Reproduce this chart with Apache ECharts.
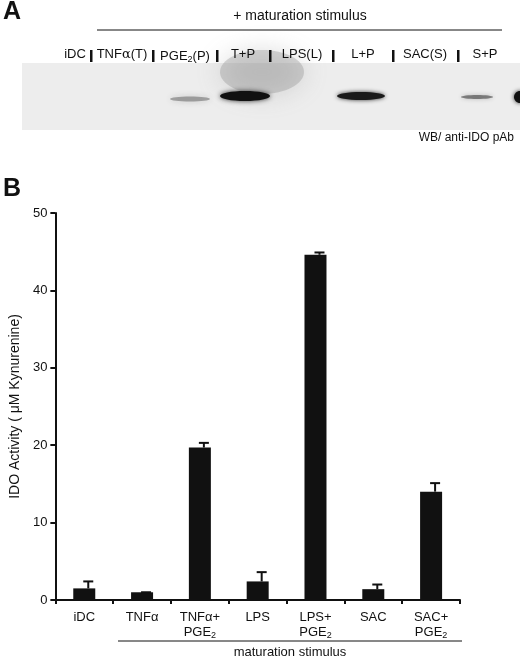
<!DOCTYPE html>
<html><head><meta charset="utf-8">
<script src="https://cdn.jsdelivr.net/npm/echarts@6/dist/echarts.min.js"></script>
<style>html,body{margin:0;background:#fff}#main{width:520px;height:665px}</style>
</head><body><div id="main"></div>
<script>
// bar chart data (panel B)
var categories = ['iDC', 'TNFα', 'TNFα+\nPGE{s|2}', 'LPS', 'LPS+\nPGE{s|2}', 'SAC', 'SAC+\nPGE{s|2}'];
var means = [1.5, 1.0, 19.7, 2.4, 44.6, 1.4, 14.0];
var errTops = [2.4, 1.0, 20.3, 3.6, 44.9, 2.0, 15.1];
var yTicks = [0, 10, 20, 30, 40, 50];

// blot lanes (panel A)
var laneLabels = ['iDC', 'TNF{g|α}(T)', 'PGE{s|2}(P)', 'T+P', 'LPS(L)', 'L+P', 'SAC(S)', 'S+P'];
var laneX = [75, 122, 185, 243, 302, 363, 425, 485];
var sepX = [91, 153, 217, 270, 333, 393, 458];

var myChart = echarts.init(document.getElementById('main'));
var font = 'Liberation Sans, Arial, sans-serif';
var rich = { s: { fontSize: 9, verticalAlign: 'bottom', padding: [7, 0, 0, 0], fontFamily: font, color: '#111' },
             g: { fontSize: 13, fontFamily: 'DejaVu Serif', color: '#111' } };

var graphics = [
  { type: 'text', left: 3, top: 0, style: { text: 'A', font: 'bold 25px ' + font, fill: '#111' } },
  { type: 'text', left: 3, top: 177, style: { text: 'B', font: 'bold 25px ' + font, fill: '#111' } },
  { type: 'text', x: 300, y: 9, style: { text: '+ maturation stimulus', font: '14px ' + font, fill: '#111', align: 'center' } },
  { type: 'line', shape: { x1: 97, y1: 30, x2: 502, y2: 30 }, style: { stroke: '#111', lineWidth: 1 } },
  { type: 'text', x: 514, y: 132, style: { text: 'WB/ anti-IDO pAb', font: '12px ' + font, fill: '#111', align: 'right' } },
  // blot background
  { type: 'rect', shape: { x: 22, y: 63, width: 498, height: 67 }, style: { fill: '#ededed' } },
  { type: 'ellipse', shape: { cx: 262, cy: 72, rx: 42, ry: 22 }, style: { fill: 'rgba(140,140,140,0.35)', shadowBlur: 25, shadowColor: 'rgba(140,140,140,0.8)' } },
  { type: 'ellipse', shape: { cx: 190, cy: 99, rx: 20, ry: 2.5 }, style: { fill: 'rgba(60,60,60,0.4)', shadowBlur: 6, shadowColor: 'rgba(60,60,60,0.5)' } },
  { type: 'ellipse', shape: { cx: 245, cy: 96, rx: 25, ry: 5 }, style: { fill: '#111', shadowBlur: 5, shadowColor: '#333' } },
  { type: 'ellipse', shape: { cx: 361, cy: 96, rx: 24, ry: 4 }, style: { fill: '#1a1a1a', shadowBlur: 4, shadowColor: '#333' } },
  { type: 'ellipse', shape: { cx: 477, cy: 97, rx: 16, ry: 2 }, style: { fill: 'rgba(50,50,50,0.55)', shadowBlur: 4, shadowColor: 'rgba(50,50,50,0.5)' } },
  { type: 'ellipse', shape: { cx: 520, cy: 97, rx: 6, ry: 6 }, style: { fill: '#111', shadowBlur: 4, shadowColor: '#333' } },
  // maturation stimulus under panel B
  { type: 'line', shape: { x1: 118, y1: 641, x2: 462, y2: 641 }, style: { stroke: '#111', lineWidth: 1 } },
  { type: 'text', x: 290, y: 646, style: { text: 'maturation stimulus', font: '13px ' + font, fill: '#111', align: 'center' } }
];
laneLabels.forEach(function (t, i) {
  graphics.push({ type: 'text', x: laneX[i], y: 48, style: { text: t, rich: rich, font: '13px ' + font, fill: '#111', align: 'center' } });
});
sepX.forEach(function (x) {
  graphics.push({ type: 'rect', shape: { x: x - 1, y: 50, width: 2.5, height: 12 }, style: { fill: '#111' } });
});

var option = {
  animation: false,
  grid: { left: 52, right: 60, top: 213, bottom: 65 },
  graphic: graphics,
  xAxis: {
    type: 'category', data: categories,
    axisLine: { lineStyle: { color: '#111', width: 2 } },
    axisTick: { show: true, length: 4, lineStyle: { color: '#111', width: 2 } },
    axisLabel: { interval: 0, color: '#111', fontSize: 13, fontFamily: font, lineHeight: 15, margin: 10, rich: rich }
  },
  yAxis: {
    type: 'value', min: 0, max: 50, interval: 10,
    name: 'IDO Activity ( μM Kynurenine)', nameLocation: 'middle', nameGap: 32,
    nameTextStyle: { color: '#111', fontSize: 14, fontFamily: font },
    axisLine: { show: true, lineStyle: { color: '#111', width: 2 } },
    axisTick: { show: true, length: 5, lineStyle: { color: '#111', width: 2 } },
    axisLabel: { color: '#111', fontSize: 13, fontFamily: font, margin: 8,
      formatter: function (v) { return yTicks.indexOf(v) >= 0 ? String(v) : ''; } },
    splitLine: { show: false }
  },
  series: [{
    type: 'bar', data: means, barWidth: 22,
    itemStyle: { color: '#111' }
  }, {
    type: 'custom',
    data: errTops.map(function (t, i) { return [i, means[i], t]; }),
    renderItem: function (params, api) {
      var base = api.coord([api.value(0), api.value(1)]);
      var top = api.coord([api.value(0), api.value(2)]);
      var x = base[0] + 4;
      return { type: 'group', children: [
        { type: 'line', shape: { x1: x, y1: base[1], x2: x, y2: top[1] }, style: { stroke: '#111', lineWidth: 2 } },
        { type: 'line', shape: { x1: x - 5, y1: top[1], x2: x + 5, y2: top[1] }, style: { stroke: '#111', lineWidth: 2 } }
      ] };
    },
    z: 3
  }]
};
myChart.setOption(option);
</script></body></html>
